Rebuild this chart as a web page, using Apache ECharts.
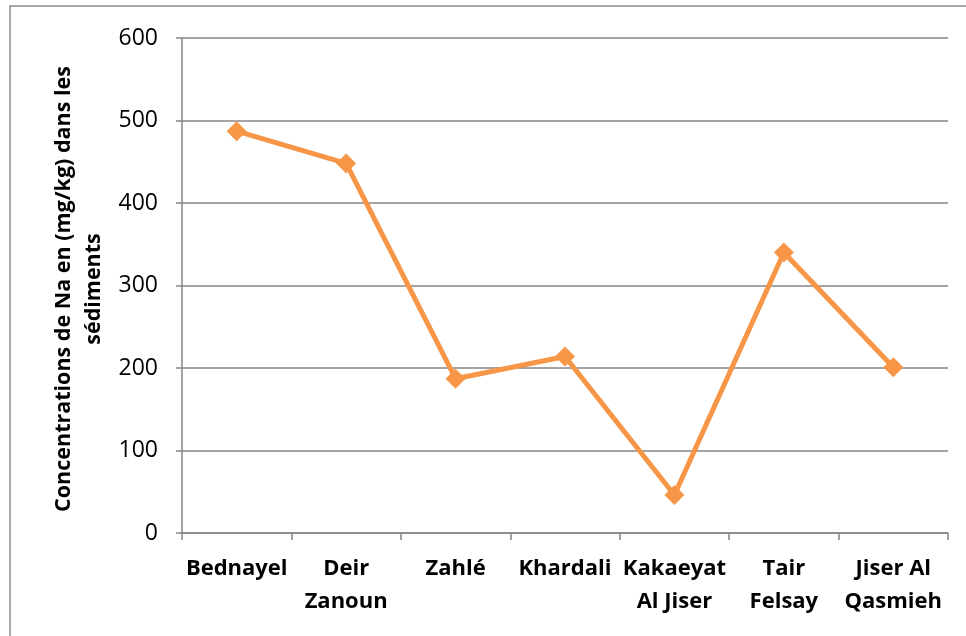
<!DOCTYPE html>
<html>
<head>
<meta charset="utf-8">
<script src="https://cdn.jsdelivr.net/npm/echarts@6/dist/echarts.min.js"></script>
<style>html,body{margin:0;padding:0;background:#fff}#c{width:966px;height:636px}</style>
</head>
<body>
<div id="c"></div>
<script>
const categories = ['Bednayel', 'Deir\nZanoun', 'Zahlé', 'Khardali', 'Kakaeyat\nAl Jiser', 'Tair\nFelsay', 'Jiser Al\nQasmieh'];
const values = [487, 448, 187, 214, 46, 340, 201];
const yTitle = 'Concentrations de Na en (mg/kg) dans les\nsédiments';

const chart = echarts.init(document.getElementById('c'), null, {renderer: 'canvas'});
chart.setOption({
  animation: false,
  backgroundColor: '#fff',
  grid: {left: 182, right: 18, top: 38, bottom: 103, containLabel: false},
  graphic: [
    {type: 'rect', shape: {x: 10, y: 6, width: 980, height: 660}, style: {fill: 'none', stroke: '#8c8c8c', lineWidth: 1.5}, silent: true},
    {type: 'text', x: 79, y: 289, rotation: Math.PI / 2, style: {text: yTitle, fontFamily: 'Open Sans', fontWeight: 'bold', fontSize: 21.5, lineHeight: 30, align: 'center', verticalAlign: 'middle', fill: '#000'}}
  ],
  xAxis: {
    type: 'category',
    data: categories,
    boundaryGap: true,
    axisLine: {lineStyle: {color: '#868686', width: 1.5}},
    axisTick: {show: true, length: 7, alignWithLabel: false, lineStyle: {color: '#868686', width: 1.5}},
    axisLabel: {interval: 0, fontFamily: 'Open Sans', fontWeight: 'bold', fontSize: 22, lineHeight: 33, color: '#000', margin: 19}
  },
  yAxis: {
    type: 'value',
    min: 0, max: 600, interval: 100,
    axisLine: {show: true, lineStyle: {color: '#868686', width: 1.5}},
    axisTick: {show: true, length: 6, lineStyle: {color: '#868686', width: 1.5}},
    splitLine: {lineStyle: {color: '#868686', width: 1.5}},
    axisLabel: {fontFamily: 'Open Sans', fontSize: 23, color: '#000', margin: 24}
  },
  series: [{
    type: 'line',
    data: values,
    symbol: 'diamond',
    symbolSize: 20,
    lineStyle: {color: '#F79646', width: 5},
    itemStyle: {color: '#F79646'}
  }]
});
</script>
</body>
</html>
